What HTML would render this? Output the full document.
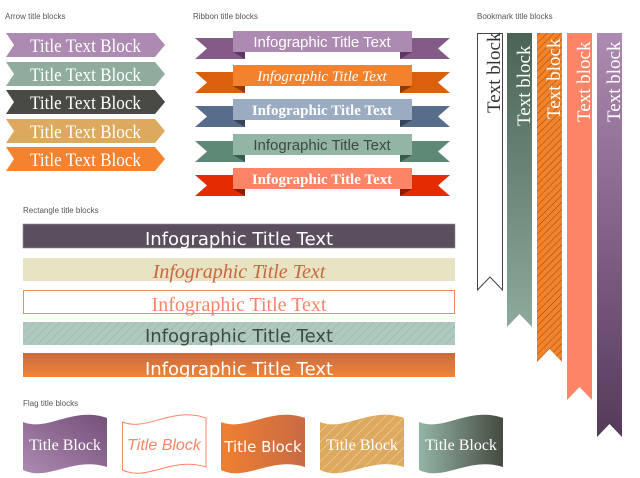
<!DOCTYPE html>
<html><head><meta charset="utf-8"><style>body{margin:0;background:#fff}svg{display:block}</style></head><body>
<svg width="640" height="478" viewBox="0 0 640 478" xmlns="http://www.w3.org/2000/svg">
<defs>
<pattern id="h1" width="6" height="6" patternUnits="userSpaceOnUse" patternTransform="rotate(45)"><rect width="6" height="6" fill="#afc9bf"/><line x1="0" y1="0" x2="0" y2="6" stroke="#93b0a5" stroke-width="1"/></pattern>
<pattern id="h2" width="5" height="5" patternUnits="userSpaceOnUse" patternTransform="rotate(45)"><rect width="5" height="5" fill="#f1832c"/><line x1="0" y1="0" x2="0" y2="5" stroke="#7a3a10" stroke-width="0.8"/></pattern>
<pattern id="h3" width="7" height="7" patternUnits="userSpaceOnUse" patternTransform="rotate(45)"><rect width="7" height="7" fill="#dca95e"/><line x1="0" y1="0" x2="0" y2="7" stroke="#f3dcb5" stroke-width="1"/></pattern>
<linearGradient id="gr1" x1="0" y1="0" x2="0" y2="1"><stop offset="0" stop-color="#c96a40"/><stop offset="1" stop-color="#f08436"/></linearGradient>
<linearGradient id="gb1" x1="0" y1="0" x2="0" y2="1"><stop offset="0" stop-color="#4a6355"/><stop offset="1" stop-color="#8daa9c"/></linearGradient>
<linearGradient id="gb2" x1="0" y1="0" x2="0" y2="1"><stop offset="0" stop-color="#ad8ab1"/><stop offset="1" stop-color="#553a5a"/></linearGradient>
<linearGradient id="gf1" x1="0" y1="1" x2="1" y2="0"><stop offset="0" stop-color="#ad8ab1"/><stop offset="1" stop-color="#74507a"/></linearGradient>
<linearGradient id="gf2" x1="0" y1="0" x2="1" y2="0"><stop offset="0" stop-color="#f08030"/><stop offset="1" stop-color="#c86a44"/></linearGradient>
<linearGradient id="gf3" x1="0" y1="0" x2="1" y2="0"><stop offset="0" stop-color="#93b5a5"/><stop offset="1" stop-color="#454a40"/></linearGradient>
</defs>
<g font-family="Liberation Sans, sans-serif" font-size="8" fill="#555">
<text x="5" y="19">Arrow title blocks</text>
<text x="193" y="19">Ribbon title blocks</text>
<text x="477" y="19">Bookmark title blocks</text>
<text x="23" y="213">Rectangle title blocks</text>
<text x="23" y="406">Flag title blocks</text>
</g>
<g font-family="Liberation Serif, serif" font-size="19" fill="#fff">
<g transform="translate(0,33)"><path d="M6,0H155L165,12L155,24H6L14,12Z" fill="#ad8ab1"/><text x="30" y="19" textLength="111" lengthAdjust="spacingAndGlyphs">Title Text Block</text></g>
<g transform="translate(0,62)"><path d="M6,0H155L165,12L155,24H6L14,12Z" fill="#8fac9d"/><text x="30" y="19" textLength="111" lengthAdjust="spacingAndGlyphs">Title Text Block</text></g>
<g transform="translate(0,90)"><path d="M6,0H155L165,12L155,24H6L14,12Z" fill="#484a43"/><text x="30" y="19" textLength="111" lengthAdjust="spacingAndGlyphs">Title Text Block</text></g>
<g transform="translate(0,119)"><path d="M6,0H155L165,12L155,24H6L14,12Z" fill="#dca95e"/><text x="30" y="19" textLength="111" lengthAdjust="spacingAndGlyphs">Title Text Block</text></g>
<g transform="translate(0,147)"><path d="M6,0H155L165,12L155,24H6L14,12Z" fill="#f4822e"/><text x="30" y="19" textLength="111" lengthAdjust="spacingAndGlyphs">Title Text Block</text></g>
</g>
<g text-anchor="middle" font-size="15">
<g transform="translate(0,31)"><path d="M195,7H245V28H195L207,17.5Z M450,7H400V28H450L438,17.5Z" fill="#845b88"/><path d="M233,21H245V28Z M412,21H400V28Z" fill="#5a3a5e"/><rect x="233" y="0" width="179" height="21" fill="#ad8ab1"/><text x="322" y="16" fill="#fff" font-family="Liberation Sans, sans-serif">Infographic Title Text</text></g>
<g transform="translate(0,65)"><path d="M195,7H245V28H195L207,17.5Z M450,7H400V28H450L438,17.5Z" fill="#d9600c"/><path d="M233,21H245V28Z M412,21H400V28Z" fill="#8a3a05"/><rect x="233" y="0" width="179" height="21" fill="#f3822e"/><text x="322" y="16" fill="#fff" font-family="Liberation Serif, serif" font-style="italic">Infographic Title Text</text></g>
<g transform="translate(0,99)"><path d="M195,7H245V28H195L207,17.5Z M450,7H400V28H450L438,17.5Z" fill="#586d8c"/><path d="M233,21H245V28Z M412,21H400V28Z" fill="#35445a"/><rect x="233" y="0" width="179" height="21" fill="#9aabc2"/><text x="322" y="16" fill="#fff" font-family="Liberation Serif, serif" font-weight="bold">Infographic Title Text</text></g>
<g transform="translate(0,134)"><path d="M195,7H245V28H195L207,17.5Z M450,7H400V28H450L438,17.5Z" fill="#5e8977"/><path d="M233,21H245V28Z M412,21H400V28Z" fill="#3a5a4c"/><rect x="233" y="0" width="179" height="21" fill="#93b5a5"/><text x="322" y="16" fill="#3e4a40" font-family="Liberation Sans, sans-serif">Infographic Title Text</text></g>
<g transform="translate(0,168)"><path d="M195,7H245V28H195L207,17.5Z M450,7H400V28H450L438,17.5Z" fill="#e42c00"/><path d="M233,21H245V28Z M412,21H400V28Z" fill="#8a1a00"/><rect x="233" y="0" width="179" height="21" fill="#fe8468"/><text x="322" y="16" fill="#fff" font-family="Liberation Serif, serif" font-weight="bold">Infographic Title Text</text></g>
</g>
<g text-anchor="middle" font-size="19">
<rect x="23" y="224" width="432" height="24" fill="#5b4e5e" stroke="#9a8ea0" stroke-width="0.6"/><text x="239" y="245" fill="#fff" font-family="DejaVu Sans, sans-serif" font-size="18">Infographic Title Text</text>
<rect x="23" y="258" width="432" height="23" fill="#e7e3c3"/><text x="239" y="278" fill="#c9673e" font-family="Liberation Serif, serif" font-style="italic" font-size="20">Infographic Title Text</text>
<rect x="23.5" y="290.5" width="431" height="23" fill="#fff" stroke="#fe8468"/><text x="239" y="311" fill="#fe8468" font-family="Liberation Serif, serif" font-size="20">Infographic Title Text</text>
<rect x="23" y="322" width="432" height="23" fill="url(#h1)"/><text x="239" y="342" fill="#3d4a40" font-family="DejaVu Sans, sans-serif" font-size="18">Infographic Title Text</text>
<rect x="23" y="353" width="432" height="24" fill="url(#gr1)"/><text x="239" y="375" fill="#fff" font-family="DejaVu Sans, sans-serif" font-size="18">Infographic Title Text</text>
</g>
<g font-family="Liberation Serif, serif" font-size="19">
<path d="M477.5,33.5H502.5V290L490,277L477.5,290Z" fill="#fff" stroke="#444"/>
<text transform="translate(500,113) rotate(-90)" fill="#333">Text block</text>
<path d="M507,33H532V327L519.5,314L507,327Z" fill="url(#gb1)"/>
<text transform="translate(530,126) rotate(-90)" fill="#fff">Text block</text>
<path d="M537,33H562V362L549.5,349L537,362Z" fill="url(#h2)"/>
<text transform="translate(560,119) rotate(-90)" fill="#fff">Text block</text>
<path d="M567,33H592V400L579.5,387L567,400Z" fill="#fe8468"/>
<text transform="translate(590,122) rotate(-90)" fill="#fff">Text block</text>
<path d="M597,33H622V437L609.5,424L597,437Z" fill="url(#gb2)"/>
<text transform="translate(620,122) rotate(-90)" fill="#fff">Text block</text>
</g>
<g font-size="16" text-anchor="middle">
<g transform="translate(23,412)"><path d="M0,10C25,20 50,-6 84,6V55C50,44 25,70 0,58Z" fill="url(#gf1)"/><text x="42" y="38" fill="#fff" font-family="Liberation Serif, serif">Title Block</text></g>
<g transform="translate(122,412)"><path d="M0.5,10C25,20 50,-6 84,6V55C50,44 25,70 0.5,58Z" fill="#fff" stroke="#fe8468"/><text x="42" y="38" fill="#fe8468" font-family="Liberation Sans, sans-serif" font-style="italic">Title Block</text></g>
<g transform="translate(221,412)"><path d="M0,10C25,20 50,-6 84,6V55C50,44 25,70 0,58Z" fill="url(#gf2)"/><text x="42" y="40" fill="#fff" font-family="DejaVu Sans, sans-serif" font-size="15">Title Block</text></g>
<g transform="translate(320,412)"><path d="M0,10C25,20 50,-6 84,6V55C50,44 25,70 0,58Z" fill="url(#h3)"/><text x="42" y="38" fill="#fff" font-family="Liberation Serif, serif">Title Block</text></g>
<g transform="translate(419,412)"><path d="M0,10C25,20 50,-6 84,6V55C50,44 25,70 0,58Z" fill="url(#gf3)"/><text x="42" y="38" fill="#fff" font-family="Liberation Serif, serif">Title Block</text></g>
</g>
</svg>
</body></html>
